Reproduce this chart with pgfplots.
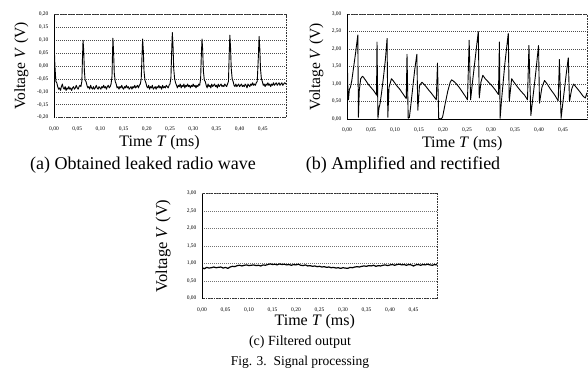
\documentclass[border=0pt]{standalone}
\usepackage{fontspec}
\setmainfont{Liberation Serif}
\usepackage{pgfplots}
\pgfplotsset{compat=1.18}

\pgfplotsset{
  sig/.style={
    scale only axis,
    anchor=south west,
    xmin=0, xmax=0.5,
    xtick={0,0.05,0.10,0.15,0.20,0.25,0.30,0.35,0.40,0.45},
    major tick length=0pt,
    ymajorgrids,
    grid style={black!70, dash pattern=on 1.2pt off 0.8pt, line width=0.5pt},
    axis line style={black!80, dash pattern=on 0.8pt off 0.8pt, line width=0.5pt},
    /pgf/number format/assume math mode=true,
    /pgf/number format/fixed,
    /pgf/number format/fixed zerofill,
    /pgf/number format/precision=2,
    /pgf/number format/use comma,
    tick label style={font=\fontsize{5.5}{6}\selectfont},
    xticklabel style={/tikz/yshift=-5.5pt},
    yticklabel style={/tikz/xshift=-2pt},
    xlabel={Time \textit{T} (ms)},
    ylabel={Voltage \textit{V} (V)},
    xlabel style={font=\fontsize{16}{18}\selectfont, anchor=center},
    ylabel style={font=\fontsize{15.5}{18}\selectfont, anchor=center, rotate=0},
  },
  sigline/.style={black, line width=0.9pt, mark=none, line join=round},
}

\begin{document}
\begin{tikzpicture}
\useasboundingbox (0pt,-381pt) rectangle (588pt,0pt);

% ---------------- (a) ----------------
\begin{axis}[sig, at={(54pt,-117.5pt)}, width=232pt, height=103pt,
  ymin=-0.2, ymax=0.2, ytick={-0.20,-0.15,-0.10,-0.05,0,0.05,0.10,0.15,0.20},
  xlabel style={at={(axis description cs:0.455,-0.245)}},
  ylabel style={at={(axis description cs:-0.14,0.5)}}]
\addplot[sigline] coordinates {
(0.000,0.100)(0.002,0.000)(0.004,-0.060)(0.006,-0.065)(0.008,-0.080)(0.010,-0.090)(0.012,-0.085)(0.014,-0.095)(0.016,-0.080)(0.018,-0.070)(0.020,-0.085)(0.022,-0.090)(0.024,-0.080)(0.026,-0.095)(0.028,-0.085)(0.030,-0.090)(0.032,-0.080)(0.034,-0.090)(0.036,-0.085)(0.038,-0.095)(0.040,-0.085)(0.042,-0.080)(0.044,-0.090)(0.046,-0.085)(0.048,-0.075)(0.050,-0.085)(0.052,-0.090)(0.054,-0.080)(0.056,-0.075)(0.058,-0.080)(0.060,-0.060)(0.0615,0.040)(0.0626,0.100)(0.0640,0.060)(0.0655,-0.020)(0.067,-0.055)(0.069,-0.060)(0.071,-0.075)
(0.073,-0.085)(0.075,-0.080)(0.077,-0.090)(0.079,-0.075)(0.081,-0.085)(0.083,-0.090)(0.085,-0.080)(0.087,-0.090)(0.089,-0.085)(0.091,-0.075)(0.093,-0.085)(0.095,-0.090)(0.097,-0.080)(0.099,-0.085)(0.101,-0.090)(0.103,-0.080)(0.105,-0.085)(0.107,-0.075)(0.109,-0.085)(0.111,-0.080)(0.113,-0.090)(0.115,-0.080)(0.117,-0.075)(0.119,-0.085)(0.121,-0.080)(0.123,-0.070)(0.125,-0.040)(0.126,0.040)(0.127,0.108)(0.1285,0.050)(0.130,-0.030)(0.132,-0.060)(0.134,-0.070)
(0.136,-0.085)(0.138,-0.080)(0.140,-0.090)(0.142,-0.080)(0.144,-0.085)(0.146,-0.075)(0.148,-0.085)(0.150,-0.090)(0.152,-0.080)(0.154,-0.085)(0.156,-0.075)(0.158,-0.085)(0.160,-0.080)(0.162,-0.090)(0.164,-0.085)(0.166,-0.080)(0.168,-0.090)(0.170,-0.080)(0.172,-0.085)(0.174,-0.075)(0.176,-0.085)(0.178,-0.080)(0.180,-0.075)(0.182,-0.085)(0.184,-0.075)(0.186,-0.070)(0.188,-0.050)(0.1895,0.030)(0.191,0.105)(0.1925,0.060)(0.194,-0.020)(0.196,-0.055)(0.198,-0.065)
(0.200,-0.080)(0.202,-0.085)(0.204,-0.075)(0.206,-0.090)(0.208,-0.080)(0.210,-0.085)(0.212,-0.075)(0.214,-0.090)(0.216,-0.085)(0.218,-0.080)(0.220,-0.090)(0.222,-0.080)(0.224,-0.085)(0.226,-0.075)(0.228,-0.085)(0.230,-0.080)(0.232,-0.090)(0.234,-0.075)(0.236,-0.085)(0.238,-0.080)(0.240,-0.085)(0.242,-0.075)(0.244,-0.080)(0.246,-0.085)(0.248,-0.075)(0.250,-0.070)(0.252,-0.045)(0.2535,0.050)(0.255,0.130)(0.2565,0.080)(0.258,-0.010)(0.260,-0.050)(0.262,-0.065)
(0.264,-0.075)(0.266,-0.085)(0.268,-0.075)(0.270,-0.080)(0.272,-0.070)(0.274,-0.085)(0.276,-0.075)(0.278,-0.080)(0.280,-0.070)(0.282,-0.085)(0.284,-0.075)(0.286,-0.080)(0.288,-0.070)(0.290,-0.080)(0.292,-0.075)(0.294,-0.085)(0.296,-0.075)(0.298,-0.080)(0.300,-0.070)(0.302,-0.080)(0.304,-0.075)(0.306,-0.085)(0.308,-0.075)(0.310,-0.080)(0.312,-0.070)(0.314,-0.075)(0.316,-0.050)(0.3175,0.040)(0.319,0.105)(0.3205,0.060)(0.322,-0.020)(0.324,-0.055)(0.326,-0.060)
(0.328,-0.075)(0.330,-0.085)(0.332,-0.070)(0.334,-0.080)(0.336,-0.075)(0.338,-0.085)(0.340,-0.070)(0.342,-0.080)(0.344,-0.075)(0.346,-0.070)(0.348,-0.080)(0.350,-0.075)(0.352,-0.085)(0.354,-0.070)(0.356,-0.080)(0.358,-0.075)(0.360,-0.070)(0.362,-0.080)(0.364,-0.075)(0.366,-0.080)(0.368,-0.070)(0.370,-0.075)(0.372,-0.080)(0.374,-0.070)(0.376,-0.060)(0.3775,0.040)(0.379,0.120)(0.3805,0.070)(0.382,-0.010)(0.384,-0.050)(0.386,-0.060)
(0.388,-0.075)(0.390,-0.080)(0.392,-0.070)(0.394,-0.080)(0.396,-0.075)(0.398,-0.070)(0.400,-0.080)(0.402,-0.075)(0.404,-0.070)(0.406,-0.080)(0.408,-0.075)(0.410,-0.080)(0.412,-0.070)(0.414,-0.075)(0.416,-0.085)(0.418,-0.070)(0.420,-0.075)(0.422,-0.080)(0.424,-0.070)(0.426,-0.075)(0.428,-0.065)(0.430,-0.075)(0.432,-0.070)(0.434,-0.075)(0.436,-0.065)(0.438,-0.060)(0.4405,0.040)(0.442,0.115)(0.4435,0.070)(0.445,-0.010)(0.447,-0.050)(0.449,-0.060)
(0.451,-0.075)(0.453,-0.070)(0.455,-0.080)(0.457,-0.070)(0.459,-0.075)(0.461,-0.065)(0.463,-0.075)(0.465,-0.070)(0.467,-0.080)(0.469,-0.070)(0.471,-0.075)(0.473,-0.065)(0.475,-0.075)(0.477,-0.070)(0.479,-0.065)(0.481,-0.075)(0.483,-0.070)(0.485,-0.065)(0.487,-0.075)(0.489,-0.070)(0.491,-0.065)(0.493,-0.075)(0.495,-0.070)(0.497,-0.065)(0.500,-0.070)
};
\draw[black, line width=0.6pt, solid] (rel axis cs:0,0) -- (rel axis cs:0,1);
\end{axis}

% ---------------- (b) ----------------
\begin{axis}[sig, at={(347pt,-119pt)}, width=240pt, height=105pt,
  ymin=0, ymax=3, ytick={0,0.5,1,1.5,2,2.5,3},
  xlabel style={at={(axis description cs:0.48,-0.23)}},
  ylabel style={at={(axis description cs:-0.127,0.5)}}]
\addplot[sigline] coordinates {
(0.000,2.30)(0.0015,1.00)(0.003,0.55)(0.005,0.85)(0.007,0.90)(0.010,1.10)(0.014,1.50)(0.018,1.90)(0.0225,2.40)(0.0238,0.05)(0.0255,0.80)(0.0285,1.15)(0.0320,1.22)(0.0340,1.20)(0.0400,1.08)(0.0450,0.98)(0.0500,0.90)(0.0550,0.82)(0.0600,0.72)(0.0615,0.68)
(0.0625,2.20)(0.0645,0.02)(0.0665,0.30)(0.0690,0.45)(0.0720,0.75)(0.0760,1.20)(0.0800,1.70)(0.0835,2.30)(0.0850,0.05)(0.0875,0.90)(0.0925,1.15)(0.0960,1.10)(0.1000,1.02)(0.1050,0.93)(0.1100,0.85)(0.1150,0.75)(0.1200,0.65)(0.1235,0.58)
(0.1250,1.85)(0.1275,0.02)(0.1300,0.05)(0.1330,0.40)(0.1370,0.90)(0.1410,1.40)(0.1455,1.85)(0.1475,0.25)(0.1510,0.95)(0.1560,1.05)(0.1600,1.00)(0.1650,0.92)(0.1700,0.83)(0.1750,0.75)(0.1800,0.66)(0.1860,0.55)
(0.1885,1.60)(0.1910,0.02)(0.1960,0.00)(0.1990,0.05)(0.2040,0.40)(0.2100,0.80)(0.2150,1.05)(0.2180,1.12)(0.2220,1.08)(0.2280,1.00)(0.2340,0.90)(0.2400,0.78)(0.2460,0.66)(0.2510,0.55)
(0.2545,2.25)(0.2575,0.55)(0.2610,1.00)(0.2660,1.60)(0.2735,2.50)(0.2755,0.60)(0.2790,1.05)(0.2830,1.25)(0.2880,1.15)(0.2950,1.05)(0.3020,0.95)(0.3090,0.83)(0.3155,0.70)
(0.3175,2.20)(0.3190,0.02)(0.3220,0.55)(0.3290,1.60)(0.3360,2.45)(0.3380,0.50)(0.3430,1.15)(0.3480,1.05)(0.3550,0.92)(0.3620,0.80)(0.3700,0.68)(0.3760,0.55)
(0.3790,2.10)(0.3830,0.10)(0.3880,0.70)(0.3930,1.30)(0.3990,2.10)(0.4010,0.45)(0.4060,0.90)(0.4115,1.10)(0.4170,1.00)(0.4240,0.85)(0.4320,0.70)(0.4400,0.52)
(0.4425,1.70)(0.4460,0.02)(0.4500,0.50)(0.4560,1.20)(0.4610,1.75)(0.4635,0.50)(0.4680,0.85)(0.4720,1.00)(0.4780,0.90)(0.4850,0.78)(0.4920,0.65)(0.4965,0.60)(0.5000,0.75)
};
\draw[black, line width=0.6pt, solid] (rel axis cs:0,0) -- (rel axis cs:0,1);
\draw[black, line width=0.6pt, solid] (rel axis cs:0,0) -- (rel axis cs:1,0);
\end{axis}

% ---------------- (c) ----------------
\begin{axis}[sig, at={(202pt,-298.5pt)}, width=235pt, height=105pt,
  ymin=0, ymax=3, ytick={0,0.5,1,1.5,2,2.5,3},
  grid style={black!55, dash pattern=on 1.2pt off 0.8pt, line width=0.5pt},
  xlabel style={at={(axis description cs:0.48,-0.225)}},
  ylabel style={at={(axis description cs:-0.165,0.5)}, font=\fontsize{16.5}{18}\selectfont}]
\addplot[sigline, line width=1.2pt] coordinates {
(0.000,0.88)(0.005,0.85)(0.010,0.89)(0.015,0.87)(0.020,0.88)(0.025,0.90)(0.030,0.88)(0.035,0.89)(0.040,0.90)(0.045,0.87)(0.050,0.89)(0.055,0.86)(0.060,0.90)(0.065,0.92)(0.070,0.91)(0.075,0.94)(0.080,0.95)(0.085,0.93)(0.090,0.95)(0.095,0.96)(0.100,0.94)
(0.105,0.95)(0.110,0.96)(0.115,0.94)(0.120,0.95)(0.125,0.93)(0.130,0.96)(0.135,0.95)(0.140,0.97)(0.145,0.99)(0.150,0.97)(0.155,0.98)(0.160,0.96)(0.165,0.99)(0.170,0.97)(0.175,0.98)(0.180,0.96)(0.185,0.97)(0.190,0.95)(0.195,0.97)(0.200,0.96)
(0.205,0.98)(0.210,0.95)(0.215,0.94)(0.220,0.96)(0.225,0.93)(0.230,0.94)(0.235,0.92)(0.240,0.93)(0.245,0.91)(0.250,0.92)(0.255,0.90)(0.260,0.91)(0.265,0.89)(0.270,0.90)(0.275,0.88)(0.280,0.89)(0.285,0.87)(0.290,0.88)(0.295,0.86)(0.300,0.88)
(0.305,0.87)(0.310,0.86)(0.315,0.89)(0.320,0.88)(0.325,0.90)(0.330,0.91)(0.335,0.90)(0.340,0.92)(0.345,0.93)(0.350,0.92)(0.355,0.94)(0.360,0.93)(0.365,0.95)(0.370,0.92)(0.375,0.94)(0.380,0.93)(0.385,0.95)(0.390,0.96)(0.395,0.94)(0.400,0.96)
(0.405,0.97)(0.410,0.95)(0.415,0.97)(0.420,0.98)(0.425,0.96)(0.430,0.97)(0.435,0.95)(0.440,0.97)(0.445,0.96)(0.450,0.93)(0.455,0.96)(0.460,0.97)(0.465,0.95)(0.470,0.97)(0.475,0.96)(0.480,0.98)(0.485,0.96)(0.490,0.95)(0.495,0.97)(0.500,0.96)
};
\draw[black, line width=0.6pt, solid] (rel axis cs:0,0) -- (rel axis cs:0,1);
\end{axis}

% captions
\node[font=\fontsize{18}{21}\selectfont] at (143pt,-165pt) {(a) Obtained leaked radio wave};
\node[font=\fontsize{18}{21}\selectfont] at (403pt,-165pt) {(b) Amplified and rectified};
\node[font=\fontsize{14}{16}\selectfont] at (300pt,-342pt) {(c) Filtered output};
\node[font=\fontsize{13.5}{16}\selectfont] at (300pt,-362pt) {Fig. 3.\ \ Signal processing};
\end{tikzpicture}
\end{document}
